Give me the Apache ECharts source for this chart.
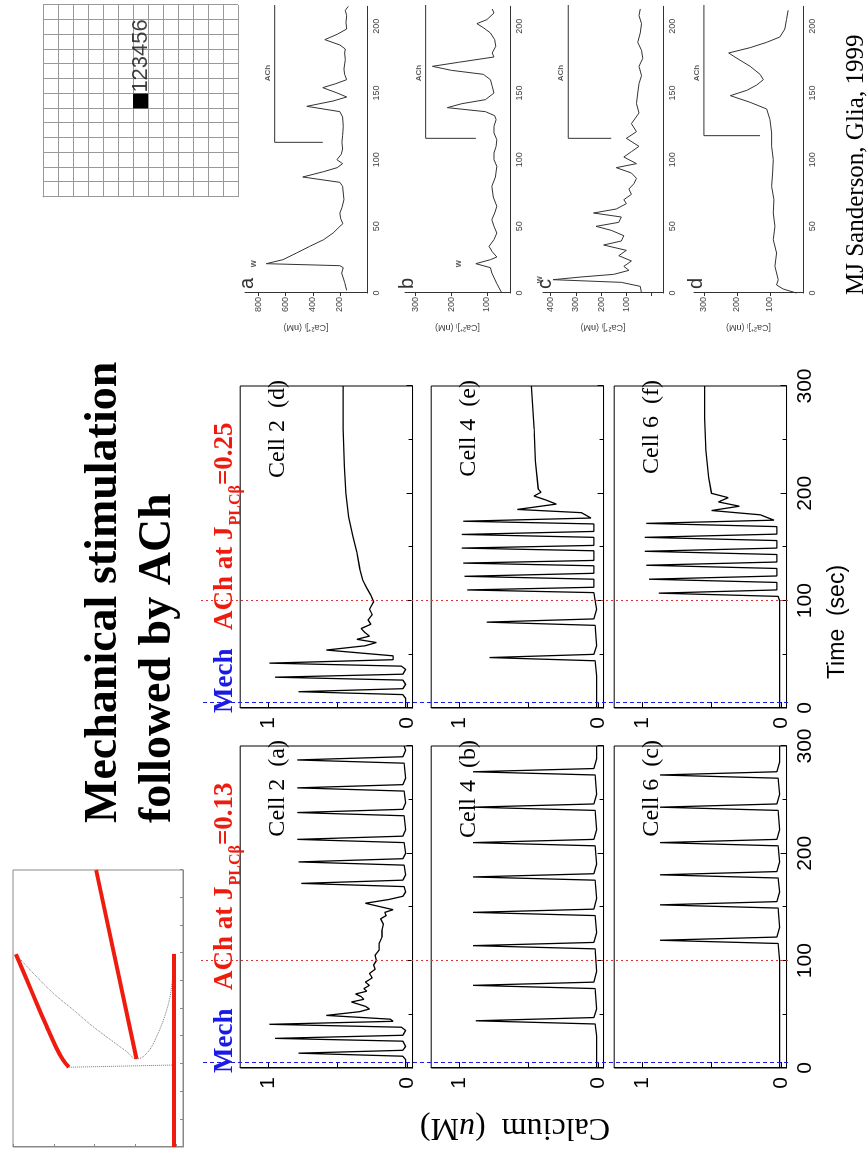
<!DOCTYPE html>
<html>
<head>
<meta charset="utf-8">
<script src="https://cdn.jsdelivr.net/npm/echarts@6/dist/echarts.min.js"></script>
<style>
  html, body { margin: 0; padding: 0; background: #fff; overflow: hidden; }
  /* the slide is laid out in landscape and turned a quarter turn */
  #slide { position: absolute; left: 0; top: 0; width: 1157px; height: 867px;
           transform-origin: 0 0; transform: translateY(1157px) rotate(-90deg); }
</style>
</head>
<body>
<div id="slide"></div>
<script>
// ---------------- phase-plane sketch (model trajectories) ----------------
const ppBranchA = [[6.96,0.07],[6.03,0.34],[5.19,0.58],[4.34,0.83],[3.56,1.07],[3.14,1.23],[2.88,1.37]];
const ppBranchB = [[10,2.04],[3.18,3.03]];
const ppBranchC = [[0,3.95],[6.97,3.95]];
const ppLoop = [[6.96,0.07],[6.27,0.50],[5.55,0.99],[4.95,1.48],[4.34,1.97],[3.80,2.46],[3.44,2.79],[3.18,3.03],[3.38,3.28],[3.98,3.52],[4.95,3.77],[5.79,3.89],[6.96,3.95]];
const ppLink = [[2.88,1.37],[2.96,3.95]];

// ---------------- model calcium traces, [time (s), Ca (uM)] ----------------
const mechTime = 5;
const achTime = 100;

const cell2a = [[0,0.01],[8,0.01],[11,0.03],[13.8,0.78],[16.5,0.03],[20,0.01],[25,0.03],[27.6,0.95],[30.5,0.03],[35,0.01],[38,0.04],[40.7,0.99],[43.5,0.10],[45.5,0.12],[49,0.58],[52.5,0.34],[55,0.27],[57.5,0.30],[61.5,0.40],[64,0.31],[66.5,0.33],[69,0.37],[71.5,0.29],[74,0.31],[77,0.27],[80,0.30],[84,0.25],[88,0.27],[92,0.23],[96,0.24],[100,0.22],[105,0.23],[110,0.20],[116,0.20],[122,0.18],[128,0.18],[134,0.17],[139,0.19],[142,0.15],[145,0.16],[147.5,0.10],[150.5,0.20],[153.5,0.30],[157,0.13],[160,0.03],[164,0.01],[169,0.02],[172,0.76],[175,0.03],[180,0.01],[189,0.02],[192,0.78],[195,0.03],[200,0.01],[210,0.02],[213,0.79],[216,0.03],[222,0.01],[235,0.02],[238,0.79],[241,0.03],[247,0.01],[258,0.02],[261,0.79],[264,0.03],[270,0.01],[284,0.02],[287,0.79],[290,0.03],[296,0.01],[300,0.02]];
const cell4b = [[0,0.01],[30,0.01],[41,0.02],[44,0.88],[47,0.03],[55,0.01],[74,0.02],[77,0.90],[80,0.03],[90,0.01],[111,0.02],[114,0.90],[117,0.03],[126,0.01],[142,0.02],[145,0.90],[148,0.03],[158,0.01],[175,0.02],[178,0.90],[181,0.03],[190,0.01],[207,0.02],[210,0.90],[213,0.03],[222,0.01],[240,0.02],[243,0.90],[246,0.03],[255,0.01],[273,0.02],[276,0.90],[279,0.03],[288,0.01],[300,0.01]];
const cell6c = [[0,0.01],[100,0.01],[116,0.02],[119,0.87],[122,0.03],[131,0.01],[149,0.02],[152,0.87],[155,0.03],[164,0.01],[177,0.02],[180,0.87],[183,0.03],[192,0.01],[207,0.02],[210,0.87],[213,0.03],[222,0.01],[240,0.02],[243,0.87],[246,0.03],[255,0.01],[270,0.02],[273,0.87],[276,0.03],[285,0.01],[300,0.01]];
const cell2d = [[0,0.01],[9,0.01],[12.5,0.03],[15.2,0.78],[18,0.03],[22,0.01],[26,0.03],[28.7,0.95],[31.5,0.03],[36,0.01],[39,0.04],[41.8,0.99],[45,0.10],[48.6,0.10],[54,0.58],[58,0.30],[61,0.22],[64,0.36],[67,0.27],[70,0.30],[74,0.33],[78,0.26],[82,0.28],[87,0.25],[92,0.27],[99,0.24],[105,0.26],[112,0.29],[119.6,0.32],[130,0.34],[145,0.36],[160,0.39],[178,0.42],[200,0.44],[225,0.45],[260,0.46],[300,0.46]];
const cell4e = [[0,0.01],[30,0.01],[44,0.02],[47,0.78],[50,0.03],[58,0.01],[77,0.02],[80,0.80],[83,0.03],[92,0.01],[100,0.02],[107.5,0.03],[110,0.94],[112.5,0.03],[120,0.03],[122.7,0.96],[125.5,0.03],[132.5,0.03],[135,0.97],[137.5,0.03],[146.5,0.03],[149,0.98],[151.5,0.03],[159,0.03],[161.7,0.98],[164.5,0.03],[171.5,0.03],[174,0.97],[177,0.05],[182,0.12],[185,0.58],[190,0.30],[194,0.38],[197.5,0.46],[201,0.41],[204,0.43],[230,0.45],[260,0.46],[300,0.48]];
const cell6f = [[0,0.01],[100,0.01],[104,0.02],[107,0.88],[110,0.03],[117,0.03],[120,0.95],[123,0.03],[130,0.03],[133,0.97],[136,0.03],[143,0.03],[146,0.98],[149,0.03],[156,0.03],[159,0.98],[162,0.03],[169,0.03],[172,0.97],[175,0.05],[180,0.15],[184,0.50],[188,0.30],[192,0.45],[196,0.38],[200,0.50],[215,0.52],[240,0.54],[270,0.55],[300,0.55]];

// ---------------- recorded traces (Sanderson), [time (s), [Ca2+]i (nM)] ----------------
const expA = [[2,150],[8,165],[15,187],[19,175],[20.5,200],[22,743],[25,620],[30,520],[35,422],[40,320],[45,250],[50,200],[52,178],[56,195],[60,200],[64,185],[70,170],[75,175],[80,180],[83,200],[87,474],[91,320],[94,220],[97,180],[100,222],[104,190],[108,180],[113,185],[118,180],[125,175],[132,180],[136,200],[140,444],[144,250],[147,150],[150,220],[154,326],[157,230],[160,150],[164,165],[168,170],[175,160],[180,165],[183,160],[186,200],[190,311],[194,220],[198,150],[203,155],[208,150],[212,160],[215,138]];
const expB = [[0,58],[7,72],[15,86],[19,90],[22,131],[25,90],[27,72],[31,85],[35,94],[40,80],[45,72],[50,80],[55,86],[60,78],[65,72],[72,82],[80,86],[87,76],[95,72],[100,80],[105,80],[110,74],[115,72],[120,80],[125,80],[130,74],[133,78],[136,104],[139,211],[142,170],[145,104],[150,80],[155,85],[160,90],[164,110],[167,200],[170,253],[173,180],[177,80],[180,85],[185,75],[190,78],[195,90],[199,110],[202,128],[205,100],[210,80],[213,85]];
const expC = [[0,40],[5,45],[8,120],[10,390],[12,280],[14,150],[17,90],[20,110],[24,80],[28,130],[32,100],[36,190],[39,120],[43,110],[47,160],[50,220],[53,130],[57,120],[60,230],[63,140],[67,100],[70,110],[74,80],[78,90],[82,70],[86,60],[90,80],[94,140],[97,60],[102,110],[106,80],[110,50],[116,100],[121,60],[127,80],[135,50],[142,60],[150,55],[157,50],[163,40],[170,50],[176,35],[182,40],[188,55],[195,45],[202,40],[208,50],[213,45]];
const expD = [[0,20],[3,60],[6,80],[10,75],[20,85],[30,80],[40,90],[50,85],[60,90],[70,88],[80,95],[90,92],[100,90],[110,95],[120,95],[130,100],[138,110],[143,160],[148,220],[152,170],[156,140],[160,120],[164,130],[170,160],[176,200],[180,225],[184,160],[188,110],[192,70],[198,55],[205,50],[212,45]];
// ACh application bars, [time, nM] corner points
const barA = [[218,681],[113,681],[113,326]];
const barB = [[218,272],[116,272],[116,131]];
const barC = [[218,330],[116,330],[116,160]];
const barD = [[218,300],[118,300],[118,130]];

// ---------------- cell map schematic ----------------
const mapSize = 13;
const stimCell = [6, 6];
const cellNumbers = '123456';

// =====================================================================
const SERIF = '"Liberation Serif", "Times New Roman", serif';
const SANS = '"Liberation Sans", Arial, sans-serif';
const RED = '#ee1c0e';
const BLUE = '#1a1ae6';

const grids = [], xAxes = [], yAxes = [], series = [], graphics = [];

function addGrid(g, xa, ya) {
  const gi = grids.length;
  grids.push(Object.assign({ containLabel: false }, g));
  xAxes.push(Object.assign({ gridIndex: gi, type: 'value' }, xa));
  yAxes.push(Object.assign({ gridIndex: gi, type: 'value' }, ya));
  return gi;
}
function lineSeries(gi, data, style, extra) {
  series.push(Object.assign({
    type: 'line', xAxisIndex: gi, yAxisIndex: gi, data: data,
    symbol: 'none', silent: true, animation: false, lineStyle: style
  }, extra || {}));
}
// text placed by its baseline (x, baseline y)
function baselineText(x, y, text, font, size, fill, extra) {
  graphics.push(Object.assign({ type: 'text', x: x, y: y + size * 0.2,
    style: Object.assign({ text: text, font: font, fill: fill, textVerticalAlign: 'bottom' }, (extra && extra.style) || {}) },
    (extra && extra.el) || {}));
}

// ---- phase plane ----
{
  const ax = { onZero: false, lineStyle: { color: '#888', width: 1 } };
  const tk = { inside: true, length: 3, lineStyle: { color: '#888' } };
  const gi = addGrid({ left: 10, top: 13, width: 277, height: 170, show: true, borderColor: '#888', borderWidth: 1 },
    { min: 0, max: 10, interval: 1, axisLine: ax, axisTick: tk, axisLabel: { show: false }, splitLine: { show: false } },
    { min: 0, max: 4.17, interval: 1, inverse: true, axisLine: ax, axisTick: tk, axisLabel: { show: false }, splitLine: { show: false } });
  lineSeries(gi, ppLoop, { color: '#777', width: 1, type: 'dotted' }, { smooth: 0.4 });
  lineSeries(gi, ppLink, { color: '#777', width: 1, type: 'dotted' });
  lineSeries(gi, ppBranchA, { color: RED, width: 4 }, { smooth: 0.3 });
  lineSeries(gi, ppBranchB, { color: RED, width: 4 });
  lineSeries(gi, ppBranchC, { color: RED, width: 4 });
}

// ---- model panels: 2 columns x 3 rows ----
const colT0 = [89, 449];          // x of t = 0
const colW = 322;                 // 300 s
const rowZero = [407, 598, 781];  // y of Ca = 0
const unitPx = 139;               // px per uM
const panels = [
  { col: 0, row: 0, data: cell2a, label: 'Cell 2  (a)' },
  { col: 0, row: 1, data: cell4b, label: 'Cell 4  (b)' },
  { col: 0, row: 2, data: cell6c, label: 'Cell 6  (c)' },
  { col: 1, row: 0, data: cell2d, label: 'Cell 2  (d)' },
  { col: 1, row: 1, data: cell4e, label: 'Cell 4  (e)' },
  { col: 1, row: 2, data: cell6f, label: 'Cell 6  (f)' }
];
panels.forEach(p => {
  const yMin = -0.04, yMax = 1.2;
  const top = rowZero[p.row] - yMax * unitPx;
  const h = (yMax - yMin) * unitPx;
  const bottomRow = p.row === 2;
  const gi = addGrid({ left: colT0[p.col], top: top, width: colW, height: h, show: true, borderColor: '#000', borderWidth: 1 },
    { min: 0, max: 300, interval: 100,
      axisLine: { onZero: false, lineStyle: { color: '#000', width: 1 } },
      axisTick: { inside: true, length: 6, lineStyle: { color: '#000' } },
      minorTick: { show: true, splitNumber: 2, length: 4, lineStyle: { color: '#000' } },
      axisLabel: { show: bottomRow, color: '#000', fontFamily: SANS, fontSize: 21, margin: 8 },
      splitLine: { show: false } },
    { min: yMin, max: yMax, splitNumber: 2,
      axisLine: { onZero: false, lineStyle: { color: '#000', width: 1 } },
      axisTick: { inside: true, length: 6, lineStyle: { color: '#000' } },
      axisLabel: { color: '#000', fontFamily: SANS, fontSize: 21, margin: 9, showMinLabel: false, showMaxLabel: false,
        formatter: v => (Math.abs(v) < 1e-9 ? '0' : (Math.abs(v - 1) < 1e-9 ? '1' : '')) },
      splitLine: { show: false } });
  lineSeries(gi, p.data, { color: '#000', width: 1.3 });
  baselineText(colT0[p.col] + colW + 6, rowZero[p.row] - 122, p.label, '24px ' + SERIF, 24, '#000', { style: { textAlign: 'right' } });
});

// stimulus markers spanning the whole column
[0, 1].forEach(c => {
  const gi = addGrid({ left: colT0[c], top: 200, width: colW, height: 588 },
    { min: 0, max: 300, show: false }, { min: 0, max: 1, show: false });
  series.push({ type: 'line', xAxisIndex: gi, yAxisIndex: gi, data: [], silent: true, animation: false,
    markLine: { symbol: 'none', silent: true, label: { show: false },
      data: [
        { xAxis: mechTime, lineStyle: { color: BLUE, type: [4, 3], width: 1 } },
        { xAxis: achTime, lineStyle: { color: '#d33', type: [2, 3], width: 1 } }
      ] } });
});

// ---- recorded panels a-d ----
const expPanels = [
  { data: expA, bar: barA, letter: 'a', w: [22, 790], axisY: 367, top: 245, vmin: 0, vmax: 900, split: 4 },
  { data: expB, bar: barB, letter: 'b', w: [22, 160], axisY: 510, top: 405, vmin: 35, vmax: 330, split: 3 },
  { data: expC, bar: barC, letter: 'c', w: [10, 420], axisY: 663, top: 543, vmin: -45, vmax: 430, split: 4 },
  { data: expD, bar: barD, letter: 'd', w: null, axisY: 803, top: 694, vmin: 0, vmax: 330, split: 3 }
];
expPanels.forEach(p => {
  const gi = addGrid({ left: 864, top: p.top, width: 286.7, height: p.axisY - p.top },
    { min: 0, max: 215, interval: 50,
      axisLine: { onZero: false, lineStyle: { color: '#333', width: 1 } },
      axisTick: { show: false },
      axisLabel: { color: '#444', fontFamily: SANS, fontSize: 9, margin: 5, showMaxLabel: false },
      splitLine: { show: false } },
    { min: p.vmin, max: p.vmax, splitNumber: p.split,
      name: '[Ca²⁺]ᵢ (nM)', nameLocation: 'middle', nameGap: 30, nameRotate: 90,
      nameTextStyle: { color: '#444', fontFamily: SANS, fontSize: 9 },
      axisLine: { onZero: false, lineStyle: { color: '#333', width: 1 } },
      axisTick: { inside: false, length: 3, lineStyle: { color: '#333' } },
      axisLabel: { color: '#444', fontFamily: SANS, fontSize: 9, margin: 4, showMinLabel: false, showMaxLabel: false,
        formatter: v => (v > 0 ? String(v) : '') },
      splitLine: { show: false } });
  lineSeries(gi, p.data, { color: '#333', width: 1 });
  lineSeries(gi, p.bar, { color: '#333', width: 1 });
  series.push({ type: 'scatter', xAxisIndex: gi, yAxisIndex: gi, symbolSize: 0, silent: true, animation: false,
    data: [[165, p.bar[0][1]]],
    label: { show: true, position: 'top', distance: 3, formatter: 'ACh', fontFamily: SANS, fontWeight: 'bold', fontSize: 8, color: '#333' } });
  if (p.w) {
    series.push({ type: 'scatter', xAxisIndex: gi, yAxisIndex: gi, symbolSize: 0, silent: true, animation: false,
      data: [p.w],
      label: { show: true, position: 'top', distance: 2, formatter: 'w', fontFamily: SANS, fontWeight: 'bold', fontSize: 9, color: '#333' } });
  }
  baselineText(868, p.top + 8, p.letter, '20px ' + SANS, 20, '#333');
});

// ---- cell map schematic ----
{
  const gi = addGrid({ left: 960, top: 43, width: 192, height: 195, show: false },
    { min: 0, max: mapSize, interval: 1, axisLine: { show: true, lineStyle: { color: '#999' } }, axisTick: { show: false }, axisLabel: { show: false },
      splitLine: { show: true, lineStyle: { color: '#999', width: 1 } } },
    { min: 0, max: mapSize, interval: 1, inverse: true, axisLine: { show: true, lineStyle: { color: '#999' } }, axisTick: { show: false }, axisLabel: { show: false },
      splitLine: { show: true, lineStyle: { color: '#999', width: 1 } } });
  series.push({ type: 'custom', xAxisIndex: gi, yAxisIndex: gi, silent: true, animation: false,
    data: [stimCell],
    renderItem: (params, api) => {
      const p0 = api.coord([api.value(0), api.value(1)]);
      const p1 = api.coord([api.value(0) + 1, api.value(1) + 1]);
      return { type: 'rect', shape: { x: p0[0], y: p0[1], width: p1[0] - p0[0], height: p1[1] - p0[1] }, style: { fill: '#000' } };
    } });
  series.push({ type: 'scatter', xAxisIndex: gi, yAxisIndex: gi, symbolSize: 0, silent: true, animation: false,
    data: [[stimCell[0] + 1, stimCell[1] + 0.5]],
    label: { show: true, position: 'right', distance: 1, formatter: cellNumbers, fontFamily: SANS, fontSize: 22, color: '#111' } });
}

// ---- free text ----
function measure(text, font) {
  const ctx = document.createElement('canvas').getContext('2d');
  ctx.font = font;
  return ctx.measureText(text).width;
}
const titleFont = 'bold 46px ' + SERIF;
baselineText(334, 118, 'Mechanical stimulation', titleFont, 46, '#000');
baselineText(334, 172, 'followed by ACh', titleFont, 46, '#000');

const headerFont = 'bold 27px ' + SERIF;
const subFont = 'bold 16px ' + SERIF;
[['0.13', 0], ['0.25', 1]].forEach(([val, c]) => {
  const x0 = colT0[c];
  baselineText(x0 - 5, 233, 'Mech', headerFont, 27, BLUE);
  let x = x0 + 78;
  const a = 'ACh at J';
  baselineText(x, 233, a, headerFont, 27, RED);
  x += measure(a, headerFont) + 1;
  baselineText(x, 241, 'PLCβ', subFont, 16, RED);
  x += measure('PLCβ', subFont);
  baselineText(x, 233, '=' + val, headerFont, 27, RED);
});

graphics.push({ type: 'text', x: 30, y: 515, rotation: Math.PI / 2,
  style: { text: 'Calcium  ({u|u}M)', font: '32px ' + SERIF, fill: '#000', textAlign: 'center', textVerticalAlign: 'middle',
    rich: { u: { fontFamily: SERIF, fontSize: 32, fontStyle: 'italic', fill: '#000' } } } });
graphics.push({ type: 'text', x: 535, y: 838,
  style: { text: 'Time  (sec)', font: '23px ' + SANS, fill: '#000', textAlign: 'center', textVerticalAlign: 'middle' } });
baselineText(862, 864, 'MJ Sanderson, Glia, 1999', '25px ' + SERIF, 25, '#000');

const chart = echarts.init(document.getElementById('slide'), null, { renderer: 'canvas', width: 1157, height: 867 });
chart.setOption({
  animation: false,
  backgroundColor: '#fff',
  grid: grids, xAxis: xAxes, yAxis: yAxes, series: series, graphic: graphics
});
</script>
</body>
</html>
